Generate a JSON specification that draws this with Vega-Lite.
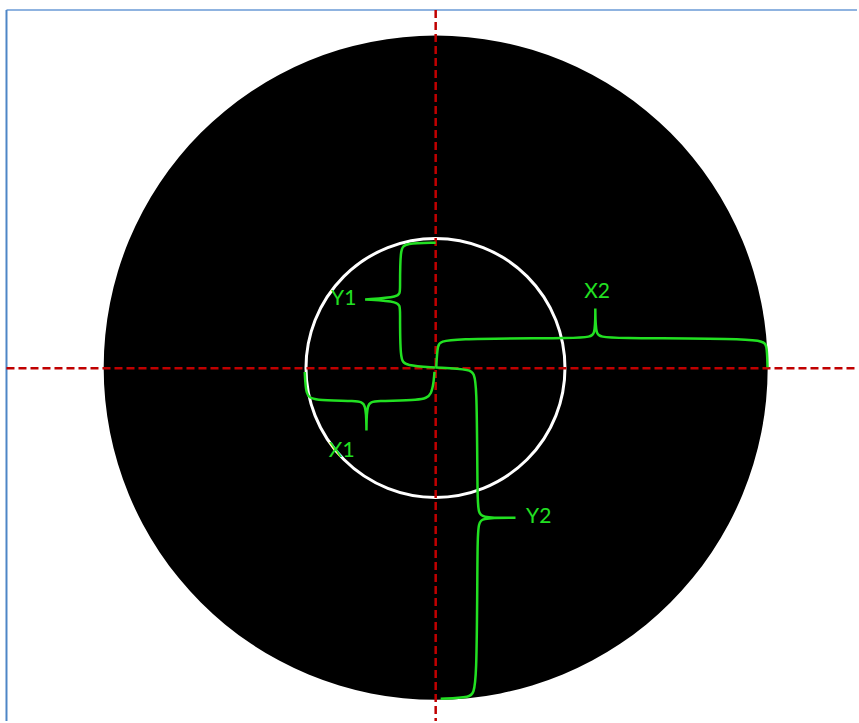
{
  "$schema": "https://vega.github.io/schema/vega-lite/v6.json",
  "width": 859,
  "height": 723,
  "padding": 0,
  "autosize": {"type": "fit", "contains": "padding"},
  "background": "white",
  "config": {"view": {"stroke": null}},
  "encoding": {
    "x": {"field": "x", "type": "quantitative", "scale": {"domain": [0, 859], "nice": false, "zero": false}, "axis": null},
    "y": {"field": "y", "type": "quantitative", "scale": {"domain": [0, 723], "nice": false, "zero": false, "reverse": true}, "axis": null}
  },
  "layer": [
    {
      "data": {"values": [
        {"edge": "top", "x": 6.5, "y": 10, "x2": 859, "y2": 10}
      ]},
      "mark": {"type": "rule", "color": "#8fb3e0", "strokeWidth": 2},
      "encoding": {"x2": {"field": "x2"}, "y2": {"field": "y2"}}
    },
    {
      "data": {"values": [
        {"edge": "left", "x": 6.5, "y": 10, "x2": 6.5, "y2": 723}
      ]},
      "mark": {"type": "rule", "color": "#4e86c6", "strokeWidth": 2},
      "encoding": {"x2": {"field": "x2"}, "y2": {"field": "y2"}}
    },
    {
      "data": {"values": [{"shape": "disk", "x": 436.7, "y": 368.7}]},
      "mark": {"type": "point", "shape": "circle", "filled": true, "color": "black", "opacity": 1, "size": 440896}
    },
    {
      "data": {"values": [{"shape": "ring", "x": 436.5, "y": 369}]},
      "mark": {"type": "point", "shape": "circle", "filled": false, "stroke": "white", "strokeWidth": 3, "opacity": 1, "size": 67081}
    },
    {
      "data": {"values": [
        {"axisline": "horizontal", "x": 6.5, "y": 369.3, "x2": 859, "y2": 369.3},
        {"axisline": "vertical", "x": 436.7, "y": 10, "x2": 436.7, "y2": 723}
      ]},
      "mark": {"type": "rule", "color": "#c00000", "strokeWidth": 2.5, "strokeDash": [8, 4]},
      "encoding": {"x2": {"field": "x2"}, "y2": {"field": "y2"}, "detail": {"field": "axisline"}}
    },
    {
      "data": {"values": [
        {"b": "Y1", "i": 0, "x": 436.7, "y": 243.3},
        {"b": "Y1", "i": 1, "x": 406, "y": 244},
        {"b": "Y1", "i": 2, "x": 401, "y": 249},
        {"b": "Y1", "i": 3, "x": 401, "y": 292},
        {"b": "Y1", "i": 4, "x": 401, "y": 298},
        {"b": "Y1", "i": 5, "x": 366, "y": 300.3},
        {"b": "Y1", "i": 6, "x": 366, "y": 300.3},
        {"b": "Y1", "i": 7, "x": 366, "y": 300.3},
        {"b": "Y1", "i": 8, "x": 401, "y": 302.5},
        {"b": "Y1", "i": 9, "x": 401, "y": 309},
        {"b": "Y1", "i": 10, "x": 401, "y": 361},
        {"b": "Y1", "i": 11, "x": 406, "y": 366.5},
        {"b": "Y1", "i": 12, "x": 436.7, "y": 368.5},
        {"b": "X1", "i": 0, "x": 305.5, "y": 373},
        {"b": "X1", "i": 1, "x": 306.5, "y": 396},
        {"b": "X1", "i": 2, "x": 313, "y": 401.7},
        {"b": "X1", "i": 3, "x": 359, "y": 401.7},
        {"b": "X1", "i": 4, "x": 367, "y": 404},
        {"b": "X1", "i": 5, "x": 367.3, "y": 431.7},
        {"b": "X1", "i": 6, "x": 367.3, "y": 431.7},
        {"b": "X1", "i": 7, "x": 367.3, "y": 431.7},
        {"b": "X1", "i": 8, "x": 367.6, "y": 404},
        {"b": "X1", "i": 9, "x": 375, "y": 401.7},
        {"b": "X1", "i": 10, "x": 422, "y": 401.7},
        {"b": "X1", "i": 11, "x": 433.5, "y": 397},
        {"b": "X1", "i": 12, "x": 435.5, "y": 373},
        {"b": "X2", "i": 0, "x": 437.3, "y": 368.3},
        {"b": "X2", "i": 1, "x": 438.5, "y": 345},
        {"b": "X2", "i": 2, "x": 443, "y": 339.3},
        {"b": "X2", "i": 3, "x": 589, "y": 339.3},
        {"b": "X2", "i": 4, "x": 596.7, "y": 337},
        {"b": "X2", "i": 5, "x": 596.7, "y": 309.3},
        {"b": "X2", "i": 6, "x": 596.7, "y": 309.3},
        {"b": "X2", "i": 7, "x": 596.7, "y": 309.3},
        {"b": "X2", "i": 8, "x": 597, "y": 337},
        {"b": "X2", "i": 9, "x": 604.5, "y": 339.3},
        {"b": "X2", "i": 10, "x": 764, "y": 339.3},
        {"b": "X2", "i": 11, "x": 768.8, "y": 345},
        {"b": "X2", "i": 12, "x": 769.3, "y": 368.3},
        {"b": "Y2", "i": 0, "x": 436.7, "y": 368.5},
        {"b": "Y2", "i": 1, "x": 473, "y": 370.5},
        {"b": "Y2", "i": 2, "x": 478.3, "y": 376},
        {"b": "Y2", "i": 3, "x": 478.3, "y": 512},
        {"b": "Y2", "i": 4, "x": 480.5, "y": 519.3},
        {"b": "Y2", "i": 5, "x": 516.7, "y": 519.3},
        {"b": "Y2", "i": 6, "x": 516.7, "y": 519.3},
        {"b": "Y2", "i": 7, "x": 516.7, "y": 519.3},
        {"b": "Y2", "i": 8, "x": 480.5, "y": 519.3},
        {"b": "Y2", "i": 9, "x": 478.3, "y": 526.5},
        {"b": "Y2", "i": 10, "x": 478.3, "y": 694},
        {"b": "Y2", "i": 11, "x": 472, "y": 699.3},
        {"b": "Y2", "i": 12, "x": 441.7, "y": 700.7}
      ]},
      "mark": {"type": "line", "interpolate": "basis", "color": "#22e022", "strokeWidth": 2.5},
      "encoding": {"detail": {"field": "b"}, "order": {"field": "i", "type": "quantitative"}}
    },
    {
      "data": {"values": [
        {"label": "Y1", "x": 344.5, "y": 300},
        {"label": "X1", "x": 342.5, "y": 452.5},
        {"label": "X2", "x": 598.5, "y": 293},
        {"label": "Y2", "x": 540, "y": 518}
      ]},
      "mark": {"type": "text", "font": "Lato", "fontSize": 21, "color": "#22e022", "align": "center", "baseline": "middle"},
      "encoding": {"text": {"field": "label"}}
    }
  ]
}
